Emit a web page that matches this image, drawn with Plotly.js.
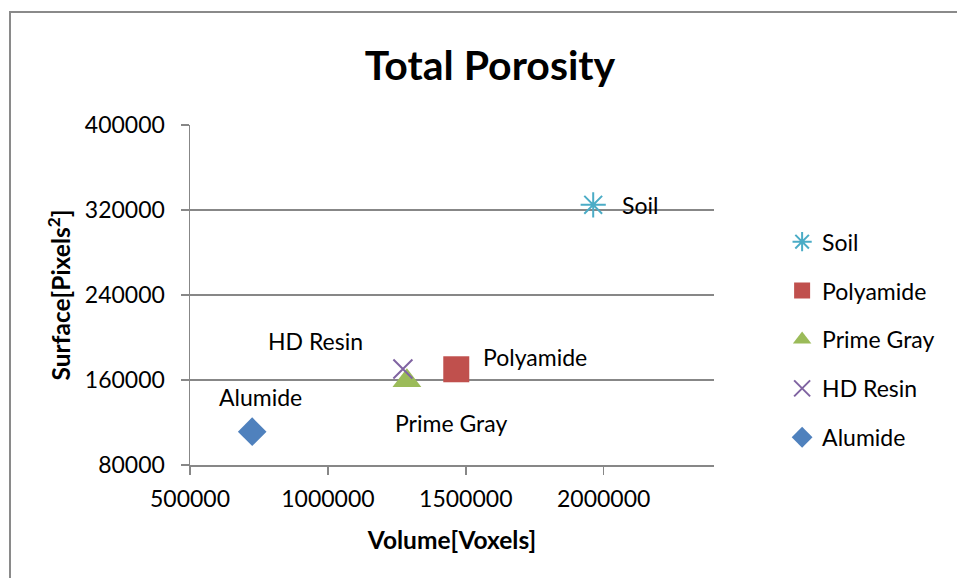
<!DOCTYPE html>
<html>
<head>
<meta charset="utf-8">
<script src="https://cdn.plot.ly/plotly-3.0.1.min.js"></script>
<style>
  html, body { margin: 0; padding: 0; background: #ffffff; }
  #chart { width: 957px; height: 578px; }
</style>
</head>
<body>
<div id="chart"></div>
<script>
// Material samples, volume vs. surface measurements
const materials = ['Soil', 'Polyamide', 'Prime Gray', 'HD Resin', 'Alumide'];
const volume = [1962000, 1465500, 1286500, 1272000, 725500];
const surface = [324900, 170100, 159400, 170400, 111400];

// Axis ticks
const xTicks = [500000, 1000000, 1500000, 2000000];
const yTicks = [80000, 160000, 240000, 320000, 400000];

// Per-series marker style
const colors = ['#4BACC6', '#C0504D', '#9BBB59', '#8064A2', '#4F81BD'];
const symbols = ['asterisk-open', 'square', 'triangle-up', 'x-thin-open', 'diamond'];
const sizes = [21, 26, 25, 19, 22];
const lineWidths = [2, 0, 0, 2, 0];

// Point label placement (pixel offsets from each point)
const labelAnchor = ['left', 'left', 'left', 'right', 'left'];
const labelDx = [27, 25, -14, -38, -35];
const labelDy = [0, 12, -42, 28, 35];

const FONT = 'Lato, "Open Sans", sans-serif';
const GRID = '#878787';
const TXT = 23;

const traces = materials.map((name, i) => ({
  type: 'scatter',
  mode: 'markers',
  name: name,
  legendgroup: name,
  x: [volume[i]],
  y: [surface[i]],
  marker: {
    symbol: symbols[i],
    size: sizes[i],
    color: colors[i],
    line: { color: colors[i], width: lineWidths[i] }
  },
  hoverinfo: 'name+x+y'
}));

const annotations = materials.map((name, i) => ({
  x: volume[i],
  y: surface[i],
  xref: 'x',
  yref: 'y',
  text: name,
  showarrow: false,
  xanchor: labelAnchor[i],
  yanchor: 'middle',
  xshift: labelDx[i],
  yshift: labelDy[i],
  font: { family: FONT, size: TXT, color: '#000000' }
}));

const layout = {
  width: 957,
  height: 578,
  paper_bgcolor: '#ffffff',
  plot_bgcolor: '#ffffff',
  margin: { l: 190, r: 243, t: 125, b: 113 },
  font: { family: FONT, size: TXT, color: '#000000' },
  title: {
    text: 'Total Porosity',
    font: { family: FONT, size: 41, weight: 'bold', color: '#000000' },
    x: 0.512,
    xanchor: 'center',
    y: 0.887,
    yanchor: 'middle'
  },
  xaxis: {
    range: [500000, 2400000],
    tickvals: xTicks,
    ticktext: xTicks.map(String),
    showgrid: false,
    zeroline: false,
    showline: true,
    linecolor: GRID,
    linewidth: 1.5,
    ticks: 'outside',
    ticklen: 8,
    tickwidth: 1.5,
    tickcolor: GRID,
    ticklabelstandoff: 5,
    tickfont: { family: FONT, size: TXT, color: '#000000' },
    title: {
      text: 'Volume[Voxels]',
      font: { family: FONT, size: 24.5, weight: 'bold', color: '#000000' },
      standoff: 21
    },
    fixedrange: true
  },
  yaxis: {
    range: [80000, 400000],
    tickvals: yTicks,
    ticktext: yTicks.map(String),
    showgrid: true,
    gridcolor: GRID,
    gridwidth: 1.5,
    zeroline: false,
    showline: true,
    linecolor: GRID,
    linewidth: 1.5,
    ticks: 'outside',
    ticklen: 8,
    tickwidth: 1.5,
    tickcolor: GRID,
    ticklabelstandoff: 11,
    tickfont: { family: FONT, size: TXT, color: '#000000' },
    title: {
      text: 'Surface[Pixels<sup>2</sup>]',
      font: { family: FONT, size: 24.5, weight: 'bold', color: '#000000' },
      standoff: 7
    },
    fixedrange: true
  },
  legend: {
    x: 1.13,
    xanchor: 'left',
    y: 0.72,
    yanchor: 'top',
    traceorder: 'grouped',
    tracegroupgap: 16,
    borderwidth: 0,
    bgcolor: 'rgba(0,0,0,0)',
    font: { family: FONT, size: TXT, color: '#000000' },
    itemwidth: 30
  },
  annotations: annotations,
  shapes: [{
    type: 'rect',
    xref: 'paper',
    yref: 'paper',
    x0: -0.3435,
    x1: 1.6,
    y0: -0.5,
    y1: 1.332,
    line: { color: '#8A8A8A', width: 2 },
    fillcolor: 'rgba(0,0,0,0)',
    layer: 'below'
  }],
  showlegend: true
};

Plotly.newPlot('chart', traces, layout, { displayModeBar: false, staticPlot: true });
</script>
</body>
</html>
